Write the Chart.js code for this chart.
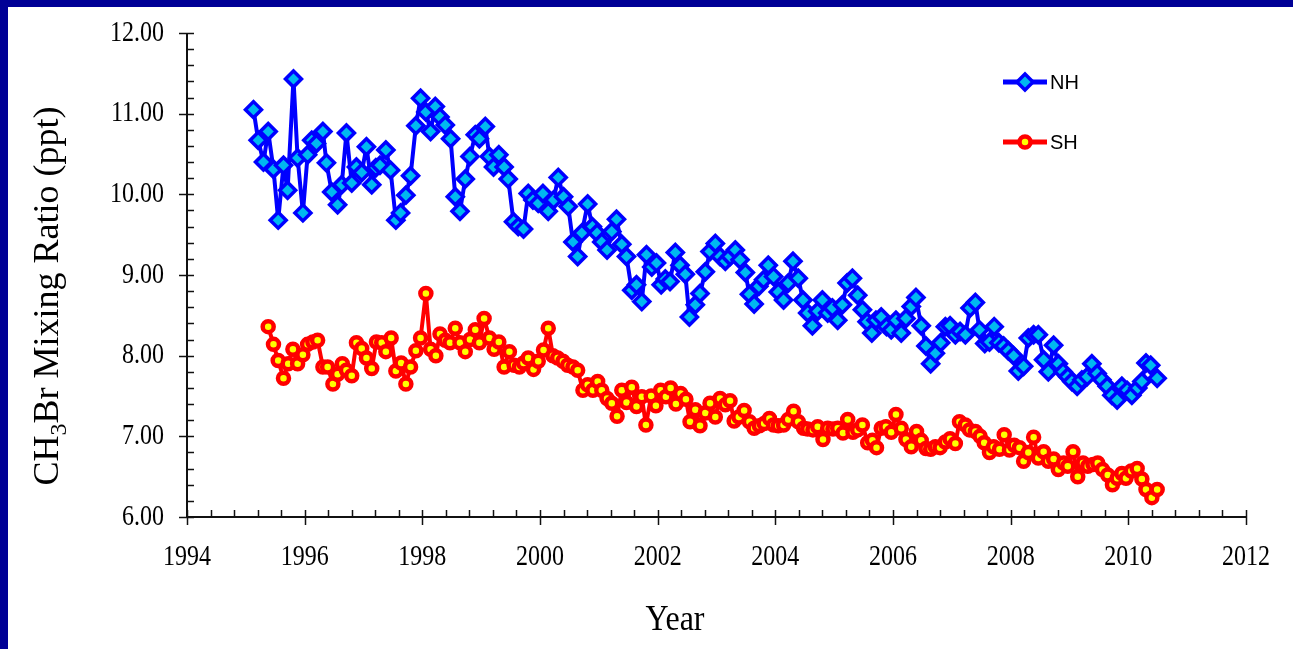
<!DOCTYPE html>
<html>
<head>
<meta charset="utf-8">
<title>CH3Br mixing ratio, NH and SH</title>
<script src="https://cdn.jsdelivr.net/npm/chart.js@4.4.1/dist/chart.umd.min.js"></script>
<style>
  html, body { margin: 0; padding: 0; background: #000096; overflow: hidden; }
  #chart { display: block; }
</style>
</head>
<body>
<canvas id="chart" width="1293" height="649"></canvas>
<script>
// ==============================
// DATA (monthly means, ppt)
// ==============================
const nhYear = [
  1995.13, 1995.21, 1995.30, 1995.38, 1995.47, 1995.55, 1995.64, 1995.71, 1995.81, 1995.88,
  1995.97, 1996.05, 1996.12, 1996.20, 1996.31, 1996.37, 1996.46, 1996.56, 1996.63, 1996.71,
  1996.80, 1996.88, 1996.97, 1997.05, 1997.14, 1997.21, 1997.28, 1997.38, 1997.46, 1997.55,
  1997.63, 1997.72, 1997.80, 1997.89, 1997.97, 1998.06, 1998.14, 1998.22, 1998.30, 1998.39,
  1998.48, 1998.56, 1998.64, 1998.73, 1998.81, 1998.90, 1998.97, 1999.07, 1999.14, 1999.21,
  1999.30, 1999.39, 1999.46, 1999.55, 1999.63, 1999.72, 1999.80, 1999.88, 1999.97, 2000.05,
  2000.14, 2000.23, 2000.31, 2000.40, 2000.48, 2000.56, 2000.64, 2000.71, 2000.81, 2000.89,
  2000.97, 2001.05, 2001.14, 2001.22, 2001.30, 2001.39, 2001.47, 2001.56, 2001.64, 2001.73,
  2001.81, 2001.90, 2001.98, 2002.06, 2002.13, 2002.21, 2002.30, 2002.38, 2002.47, 2002.54,
  2002.64, 2002.72, 2002.81, 2002.89, 2002.98, 2003.06, 2003.15, 2003.23, 2003.32, 2003.40,
  2003.49, 2003.56, 2003.64, 2003.72, 2003.80, 2003.88, 2003.97, 2004.05, 2004.14, 2004.22,
  2004.30, 2004.39, 2004.47, 2004.55, 2004.63, 2004.72, 2004.80, 2004.89, 2004.97, 2005.06,
  2005.14, 2005.22, 2005.31, 2005.40, 2005.48, 2005.56, 2005.64, 2005.71, 2005.80, 2005.89,
  2005.97, 2006.05, 2006.14, 2006.22, 2006.31, 2006.39, 2006.48, 2006.56, 2006.64, 2006.72,
  2006.81, 2006.89, 2006.97, 2007.06, 2007.14, 2007.23, 2007.31, 2007.40, 2007.47, 2007.56,
  2007.64, 2007.72, 2007.80, 2007.88, 2007.96, 2008.05, 2008.13, 2008.22, 2008.30, 2008.39,
  2008.47, 2008.56, 2008.64, 2008.73, 2008.81, 2008.89, 2008.97, 2009.04, 2009.13, 2009.21,
  2009.30, 2009.38, 2009.47, 2009.55, 2009.64, 2009.72, 2009.81, 2009.89, 2009.98, 2010.06,
  2010.16, 2010.23, 2010.30, 2010.38, 2010.49
];
const nhValue = [
  11.05, 10.67, 10.40, 10.78, 10.31, 9.68, 10.36, 10.05, 11.43, 10.45,
  9.77, 10.49, 10.67, 10.63, 10.78, 10.39, 10.03, 9.87, 10.12, 10.76,
  10.14, 10.34, 10.27, 10.59, 10.12, 10.33, 10.36, 10.55, 10.30, 9.68,
  9.77, 9.99, 10.23, 10.85, 11.19, 11.02, 10.78, 11.09, 10.96, 10.86,
  10.69, 9.97, 9.79, 10.19, 10.47, 10.74, 10.69, 10.84, 10.47, 10.34,
  10.49, 10.34, 10.19, 9.66, 9.60, 9.57, 10.01, 9.93, 9.89, 10.01,
  9.79, 9.93, 10.21, 9.97, 9.85, 9.41, 9.23, 9.52, 9.88, 9.60,
  9.52, 9.41, 9.31, 9.54, 9.69, 9.38, 9.23, 8.81, 8.88, 8.67,
  9.25, 9.10, 9.15, 8.88, 8.95, 8.92, 9.28, 9.12, 9.01, 8.48,
  8.63, 8.77, 9.04, 9.29, 9.39, 9.23, 9.17, 9.23, 9.31, 9.19,
  9.03, 8.76, 8.64, 8.86, 8.94, 9.12, 8.98, 8.79, 8.69, 8.90,
  9.17, 8.96, 8.69, 8.53, 8.37, 8.55, 8.69, 8.53, 8.59, 8.44,
  8.63, 8.90, 8.96, 8.75, 8.57, 8.42, 8.28, 8.44, 8.48, 8.36,
  8.32, 8.44, 8.28, 8.46, 8.61, 8.72, 8.37, 8.12, 7.90, 8.03,
  8.16, 8.36, 8.37, 8.26, 8.30, 8.26, 8.59, 8.66, 8.32, 8.15,
  8.17, 8.36, 8.16, 8.12, 8.06, 8.00, 7.81, 7.87, 8.22, 8.26,
  8.26, 7.95, 7.80, 8.13, 7.90, 7.80, 7.74, 7.68, 7.62, 7.70,
  7.74, 7.90, 7.78, 7.70, 7.62, 7.51, 7.45, 7.62, 7.57, 7.51,
  7.60, 7.68, 7.91, 7.88, 7.72
];

const shYear = [
  1995.38, 1995.47, 1995.55, 1995.64, 1995.72, 1995.80, 1995.88, 1995.97, 1996.05, 1996.14,
  1996.22, 1996.31, 1996.39, 1996.48, 1996.56, 1996.64, 1996.71, 1996.80, 1996.88, 1996.97,
  1997.05, 1997.14, 1997.22, 1997.31, 1997.38, 1997.47, 1997.55, 1997.64, 1997.72, 1997.80,
  1997.89, 1997.97, 1998.06, 1998.14, 1998.23, 1998.30, 1998.39, 1998.47, 1998.56, 1998.64,
  1998.73, 1998.81, 1998.90, 1998.97, 1999.05, 1999.14, 1999.22, 1999.30, 1999.39, 1999.48,
  1999.56, 1999.65, 1999.72, 1999.80, 1999.89, 1999.97, 2000.06, 2000.14, 2000.22, 2000.30,
  2000.39, 2000.47, 2000.56, 2000.64, 2000.73, 2000.81, 2000.90, 2000.98, 2001.05, 2001.14,
  2001.22, 2001.31, 2001.39, 2001.47, 2001.56, 2001.64, 2001.73, 2001.80, 2001.89, 2001.97,
  2002.05, 2002.14, 2002.22, 2002.31, 2002.39, 2002.48, 2002.55, 2002.64, 2002.72, 2002.81,
  2002.89, 2002.98, 2003.06, 2003.15, 2003.23, 2003.30, 2003.38, 2003.47, 2003.56, 2003.64,
  2003.73, 2003.81, 2003.90, 2003.97, 2004.05, 2004.14, 2004.22, 2004.31, 2004.39, 2004.48,
  2004.55, 2004.64, 2004.72, 2004.81, 2004.89, 2004.98, 2005.06, 2005.15, 2005.23, 2005.32,
  2005.40, 2005.48, 2005.57, 2005.65, 2005.72, 2005.80, 2005.88, 2005.97, 2006.05, 2006.14,
  2006.22, 2006.31, 2006.40, 2006.48, 2006.56, 2006.64, 2006.72, 2006.80, 2006.89, 2006.97,
  2007.06, 2007.13, 2007.23, 2007.30, 2007.40, 2007.48, 2007.55, 2007.64, 2007.71, 2007.81,
  2007.89, 2007.98, 2008.06, 2008.15, 2008.22, 2008.30, 2008.39, 2008.47, 2008.56, 2008.64,
  2008.73, 2008.81, 2008.90, 2008.97, 2009.06, 2009.14, 2009.23, 2009.31, 2009.40, 2009.48,
  2009.56, 2009.65, 2009.73, 2009.81, 2009.89, 2009.96, 2010.05, 2010.15, 2010.23, 2010.30,
  2010.40, 2010.49
];
const shValue = [
  8.36, 8.14, 7.94, 7.72, 7.90, 8.08, 7.90, 8.01, 8.14, 8.17,
  8.19, 7.86, 7.86, 7.65, 7.77, 7.90, 7.82, 7.75, 8.16, 8.09,
  7.97, 7.84, 8.17, 8.16, 8.05, 8.22, 7.81, 7.91, 7.65, 7.86,
  8.06, 8.22, 8.77, 8.08, 8.00, 8.27, 8.19, 8.16, 8.34, 8.16,
  8.05, 8.20, 8.32, 8.16, 8.46, 8.22, 8.08, 8.17, 7.86, 8.05,
  7.88, 7.86, 7.91, 7.97, 7.83, 7.93, 8.07, 8.34, 8.00, 7.97,
  7.93, 7.88, 7.86, 7.82, 7.57, 7.64, 7.57, 7.68, 7.57, 7.47,
  7.41, 7.25, 7.57, 7.42, 7.61, 7.37, 7.49, 7.14, 7.50, 7.38,
  7.57, 7.49, 7.60, 7.40, 7.53, 7.46, 7.18, 7.33, 7.13, 7.29,
  7.41, 7.24, 7.47, 7.39, 7.44, 7.19, 7.24, 7.32, 7.18, 7.10,
  7.13, 7.16, 7.22, 7.14, 7.13, 7.14, 7.21, 7.31, 7.18, 7.10,
  7.09, 7.08, 7.12, 6.96, 7.10, 7.09, 7.10, 7.04, 7.21, 7.05,
  7.08, 7.14, 6.92, 6.95, 6.86, 7.10, 7.12, 7.05, 7.27, 7.10,
  6.96, 6.87, 7.06, 6.95, 6.85, 6.84, 6.87, 6.86, 6.93, 6.97,
  6.91, 7.18, 7.14, 7.08, 7.06, 7.00, 6.92, 6.80, 6.87, 6.84,
  7.02, 6.83, 6.89, 6.86, 6.69, 6.80, 6.99, 6.73, 6.81, 6.69,
  6.72, 6.59, 6.67, 6.63, 6.81, 6.50, 6.67, 6.63, 6.65, 6.67,
  6.59, 6.52, 6.40, 6.48, 6.54, 6.48, 6.57, 6.60, 6.47, 6.34,
  6.24, 6.34
];

// axis ranges and tick steps
const yearMin = 1994, yearMax = 2012, yearStep = 2, yearMinorStep = 0.4;
const ratioMin = 6, ratioMax = 12, ratioStep = 1, ratioMinorStep = 0.2;

const SERIF = "'Liberation Serif', 'Times New Roman', serif";
const SANS  = "'Liberation Sans Narrow', 'Liberation Sans', Arial, sans-serif";

const NH_STYLE = { line: "#0000ff", fill: "#00b8f0", shape: "rectRot", radius: 8,   border: 3.5 };
const SH_STYLE = { line: "#ff0000", fill: "#ffff00", shape: "circle",  radius: 5.5, border: 4.5 };

function toPoints(xs, ys) {
  return xs.map((x, i) => ({ x, y: ys[i] }));
}

// ==============================
// PLUGINS: frame, axes, labels, legend
// ==============================
const framePlugin = {
  id: "frame",
  beforeDraw(chart) {
    const ctx = chart.ctx;
    ctx.save();
    ctx.fillStyle = "#000096";
    ctx.fillRect(0, 0, chart.width, chart.height);
    ctx.fillStyle = "#ffffff";
    ctx.fillRect(8, 7, chart.width - 8, chart.height - 7);
    ctx.restore();
  }
};

// tick labels are a little taller than wide in this font setting
function drawTallText(ctx, text, x, y, align, size, stretch) {
  ctx.save();
  ctx.translate(x, y);
  ctx.scale(1, stretch);
  ctx.font = size + "px " + SERIF;
  ctx.textAlign = align;
  ctx.textBaseline = "middle";
  ctx.fillText(text, 0, 0);
  ctx.restore();
}

const axesPlugin = {
  id: "axesLines",
  beforeDatasetsDraw(chart) {
    const { ctx, chartArea: a, scales: { x, y } } = chart;
    ctx.save();
    ctx.strokeStyle = "#111";
    ctx.lineWidth = 2;
    ctx.beginPath();
    ctx.moveTo(a.left, a.top);
    ctx.lineTo(a.left, a.bottom);
    ctx.lineTo(a.right, a.bottom);
    ctx.stroke();

    ctx.lineWidth = 1.5;
    ctx.beginPath();
    // y ticks: major cross the axis, minor point inward
    for (let v = ratioMin; v <= ratioMax + 1e-6; v += ratioMinorStep) {
      const py = Math.round(y.getPixelForValue(v)) + 0.5;
      const major = Math.abs(v - Math.round(v / ratioStep) * ratioStep) < 1e-6;
      ctx.moveTo(a.left - (major ? 8 : 0), py);
      ctx.lineTo(a.left + 7, py);
    }
    // x ticks
    for (let v = yearMin; v <= yearMax + 1e-6; v += yearMinorStep) {
      const px = Math.round(x.getPixelForValue(v)) + 0.5;
      const major = Math.abs(v - Math.round(v / yearStep) * yearStep) < 1e-6;
      ctx.moveTo(px, a.bottom + (major ? 8 : 0));
      ctx.lineTo(px, a.bottom - 7);
    }
    ctx.stroke();

    // tick labels from the scales' own ticks
    ctx.fillStyle = "#000";
    y.ticks.forEach(t => {
      drawTallText(ctx, t.value.toFixed(2), a.left - 23, y.getPixelForValue(t.value), "right", 24, 1.2);
    });
    x.ticks.forEach(t => {
      drawTallText(ctx, String(t.value), x.getPixelForValue(t.value), a.bottom + 40, "center", 24, 1.2);
    });
    ctx.restore();
  },
  afterDraw(chart) {
    const ctx = chart.ctx;
    ctx.save();
    ctx.fillStyle = "#000";

    // x title
    drawTallText(ctx, "Year", 675, 621, "center", 32, 1.1);

    // y title with subscript 3
    const parts = [
      { t: "CH", size: 36, dy: 0 },
      { t: "3",  size: 24, dy: 8 },
      { t: "Br Mixing Ratio (ppt)", size: 36, dy: 0 }
    ];
    let total = 0;
    parts.forEach(p => {
      ctx.font = p.size + "px " + SERIF;
      p.w = ctx.measureText(p.t).width;
      total += p.w;
    });
    ctx.translate(46, 296);
    ctx.rotate(-Math.PI / 2);
    ctx.textAlign = "left";
    ctx.textBaseline = "alphabetic";
    let cx = -total / 2;
    parts.forEach(p => {
      ctx.font = p.size + "px " + SERIF;
      ctx.fillText(p.t, cx, 12 + p.dy);
      cx += p.w;
    });
    ctx.restore();

    // legend
    drawLegendItem(ctx, 82, "NH", NH_STYLE);
    drawLegendItem(ctx, 142, "SH", SH_STYLE);
  }
};

function drawLegendItem(ctx, yPos, label, st) {
  ctx.save();
  ctx.strokeStyle = st.line;
  ctx.lineWidth = 5;
  ctx.beginPath();
  ctx.moveTo(1003, yPos);
  ctx.lineTo(1047, yPos);
  ctx.stroke();
  ctx.fillStyle = st.fill;
  ctx.lineWidth = st.border;
  Chart.helpers.drawPoint(ctx, { pointStyle: st.shape, radius: st.radius, borderWidth: st.border }, 1025, yPos);
  ctx.fillStyle = "#000";
  ctx.font = "20px " + SANS;
  ctx.textAlign = "left";
  ctx.textBaseline = "middle";
  ctx.fillText(label, 1050, yPos + 1);
  ctx.restore();
}

function dataset(label, xs, ys, st) {
  return {
    label,
    data: toPoints(xs, ys),
    borderColor: st.line,
    borderWidth: 4,
    borderJoinStyle: "round",
    borderCapStyle: "round",
    pointStyle: st.shape,
    pointRadius: st.radius,
    pointBorderWidth: st.border,
    pointBorderColor: st.line,
    pointBackgroundColor: st.fill,
    tension: 0
  };
}

new Chart(document.getElementById("chart"), {
  type: "line",
  data: {
    datasets: [
      dataset("NH", nhYear, nhValue, NH_STYLE),
      dataset("SH", shYear, shValue, SH_STYLE)
    ]
  },
  options: {
    responsive: false,
    animation: false,
    devicePixelRatio: 1,
    layout: { padding: { left: 8, top: 33, right: 47, bottom: 0 } },
    plugins: { legend: { display: false }, tooltip: { enabled: false } },
    scales: {
      x: {
        type: "linear",
        min: yearMin,
        max: yearMax,
        grid: { display: false, drawTicks: false },
        border: { display: false },
        ticks: { display: false, stepSize: yearStep, autoSkip: false },
        afterFit(s) {
          s.height = 132;
          s.paddingLeft = 0;
          s.paddingRight = 0;
        }
      },
      y: {
        min: ratioMin,
        max: ratioMax,
        grid: { display: false, drawTicks: false },
        border: { display: false },
        ticks: { display: false, stepSize: ratioStep },
        afterFit(s) {
          s.width = 179;
          s.paddingTop = 0;
          s.paddingBottom = 0;
        }
      }
    }
  },
  plugins: [framePlugin, axesPlugin]
});
</script>
</body>
</html>
